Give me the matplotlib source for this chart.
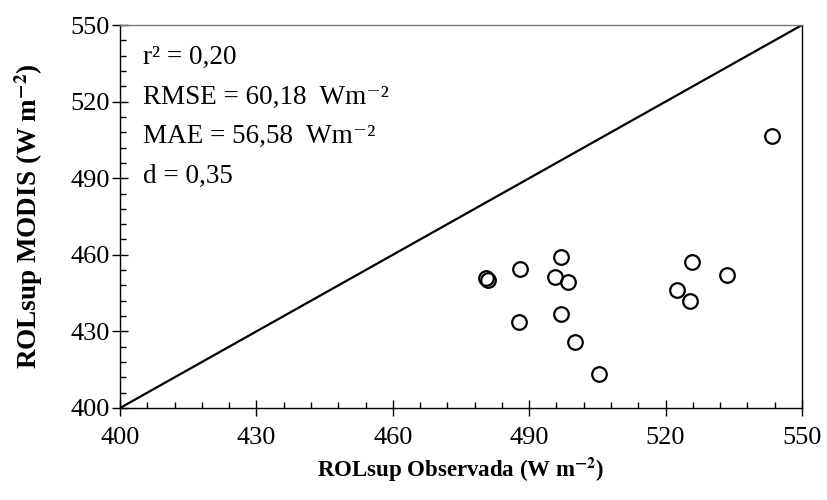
import numpy as np
import matplotlib
matplotlib.use("Agg")
import matplotlib.pyplot as plt

plt.rcParams['font.family'] = ['Liberation Serif', 'DejaVu Serif']
plt.rcParams['mathtext.fontset'] = 'stix'

# ROLsup observada x MODIS (W m-2)
observada = [480.5, 481.0, 488.0, 487.7, 495.7, 496.9, 498.5, 497.1,
             500.0, 505.3, 522.5, 525.4, 525.7, 533.6, 543.5]
modis = [450.8, 450.0, 454.4, 433.6, 451.3, 459.2, 449.3, 436.8,
         426.0, 413.3, 446.2, 441.9, 457.2, 452.2, 506.5]

ticks = [400, 430, 460, 490, 520, 550]

estatisticas = ["r² = 0,20",
                "RMSE = 60,18  Wm⁻²",
                "MAE = 56,58  Wm⁻²",
                "d = 0,35"]

fig = plt.figure(figsize=(8.27, 5.0), dpi=100)
ax = fig.add_axes([0.1451, 0.184, 0.8247, 0.766])

ax.plot([400, 550], [400, 550], color='black', lw=1.6, zorder=2)
ax.plot(observada, modis, 'o', ms=10.5, mfc='none', mec='black', mew=1.6, zorder=3)

ax.set_xlim(400, 550)
ax.set_ylim(400, 550)
ax.set_xticks(ticks)
ax.set_yticks(ticks)
ax.set_xticks(np.arange(400, 551, 6), minor=True)
ax.set_yticks(np.arange(400, 551, 6), minor=True)
ax.tick_params(which='major', direction='inout', length=11, width=1, labelsize=19)
ax.tick_params(axis='x', which='major', pad=8)
ax.tick_params(axis='y', which='major', pad=2)
ax.tick_params(which='minor', direction='in', length=4.5, width=1)
for s in ax.spines.values():
    s.set_linewidth(1)
ax.spines['top'].set_color('#777777')

ax.set_xlabel(r'ROLsup Observada (W m$^{\mathbf{-2}}$)', fontsize=16.5, fontweight='bold', labelpad=5)
ax.set_ylabel(r'ROLsup MODIS (W m$^{\mathbf{-2}}$)', fontsize=19.5, fontweight='bold', labelpad=18)

for i, t in enumerate(estatisticas):
    ax.text(0.034, 0.916 - i * 0.104, t, transform=ax.transAxes, fontsize=19.5,
            va='center', ha='left')

fig.savefig('out.png', dpi=100)
